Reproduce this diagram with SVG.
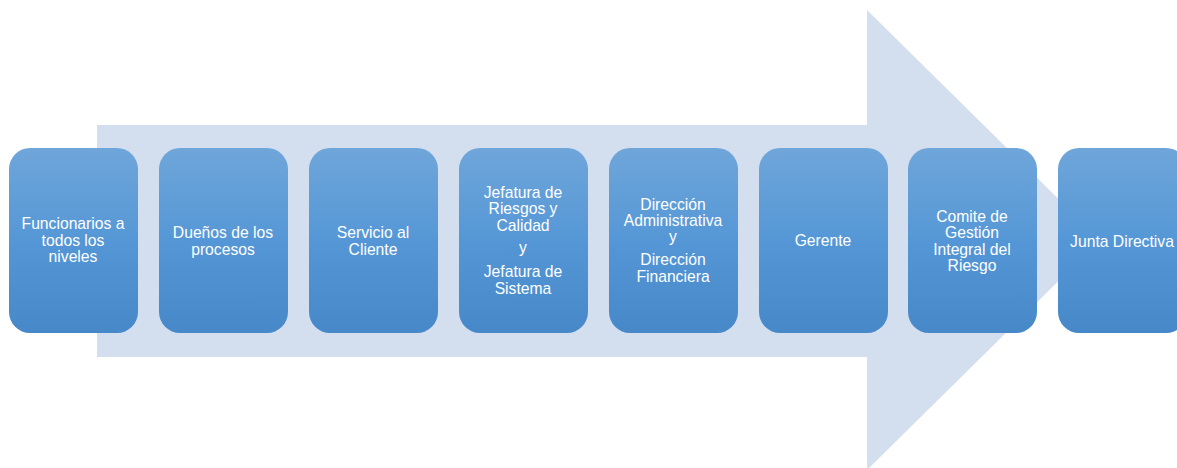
<svg xmlns="http://www.w3.org/2000/svg" width="1177" height="468" viewBox="0 0 1177 468">
<defs>
<linearGradient id="g" x1="0" y1="0" x2="0" y2="1">
<stop offset="0" stop-color="#6fa6da"/>
<stop offset="0.5" stop-color="#5597d6"/>
<stop offset="1" stop-color="#4688c8"/>
</linearGradient>
<style>
.box{fill:url(#g);}
.t{font-family:"Liberation Sans",Arial,sans-serif;font-size:15.7px;fill:#ffffff;text-anchor:middle;}
</style>
</defs>
<rect width="1177" height="468" fill="#ffffff"/>
<g id="arrow">
<polygon points="97,125 867,125 867,10 1100,240 867,470 867,357 97,357" fill="#d3deee"/>
</g>
<g id="connectors"></g>
<g id="n1"><rect class="box" x="9" y="148" width="129" height="185" rx="21"/>
<text class="t"><tspan x="73" y="229">Funcionarios a</tspan><tspan x="73" y="245.5">todos los</tspan><tspan x="73" y="262">niveles</tspan></text></g>
<g id="n2"><rect class="box" x="159" y="148" width="129" height="185" rx="21"/>
<text class="t"><tspan x="223" y="238">Dueños de los</tspan><tspan x="223" y="254.5">procesos</tspan></text></g>
<g id="n3"><rect class="box" x="309" y="148" width="129" height="185" rx="21"/>
<text class="t"><tspan x="373" y="238">Servicio al</tspan><tspan x="373" y="254.5">Cliente</tspan></text></g>
<g id="n4"><rect class="box" x="459" y="148" width="129" height="185" rx="21"/>
<text class="t"><tspan x="523" y="197.5">Jefatura de</tspan><tspan x="523" y="214">Riesgos y</tspan><tspan x="523" y="230.5">Calidad</tspan><tspan x="523" y="253">y</tspan><tspan x="523" y="277">Jefatura de</tspan><tspan x="523" y="293.5">Sistema</tspan></text></g>
<g id="n5"><rect class="box" x="609" y="148" width="129" height="185" rx="21"/>
<text class="t"><tspan x="673" y="209.5">Dirección</tspan><tspan x="673" y="226">Administrativa</tspan><tspan x="673" y="242">y</tspan><tspan x="673" y="265">Dirección</tspan><tspan x="673" y="281.5">Financiera</tspan></text></g>
<g id="n6"><rect class="box" x="759" y="148" width="129" height="185" rx="21"/>
<text class="t"><tspan x="823" y="246">Gerente</tspan></text></g>
<g id="n7"><rect class="box" x="908" y="148" width="129" height="185" rx="21"/>
<text class="t"><tspan x="972" y="221.5">Comite de</tspan><tspan x="972" y="238">Gestión</tspan><tspan x="972" y="254.5">Integral del</tspan><tspan x="972" y="271">Riesgo</tspan></text></g>
<g id="n8"><rect class="box" x="1058" y="148" width="129" height="185" rx="21"/>
<text class="t"><tspan x="1122" y="246.5">Junta Directiva</tspan></text></g>
</svg>
